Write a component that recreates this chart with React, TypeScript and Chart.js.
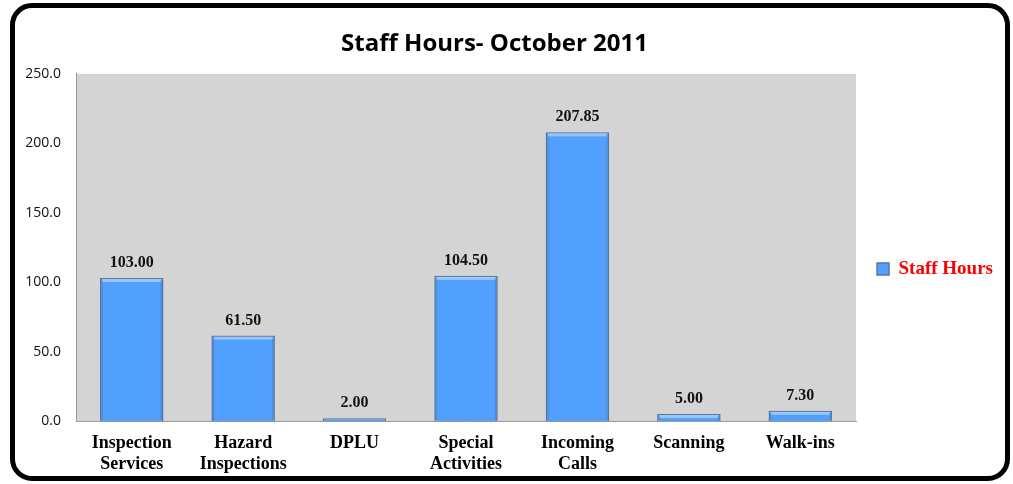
import { useEffect, useRef } from "react";
import { Chart, registerables } from "chart.js";

Chart.register(...registerables);

const titleText = "Staff Hours- October 2011";
const seriesName = "Staff Hours";
const categories: string[][] = [
  ["Inspection", "Services"],
  ["Hazard", "Inspections"],
  ["DPLU"],
  ["Special", "Activities"],
  ["Incoming", "Calls"],
  ["Scanning"],
  ["Walk-ins"],
];
const staffHours: number[] = [103.0, 61.5, 2.0, 104.5, 207.85, 5.0, 7.3];
const yMin = 0;
const yMax = 250;
const yStep = 50;

// canvas is shifted left so the title can be centred as in the original
const CANVAS_SHIFT = 14;
const CANVAS_W = 1013 + CANVAS_SHIFT;
const CANVAS_H = 484;
const PAD_L = 0;
const PAD_R = 10;
const PAD_T = 8;
const PAD_B = 4;

const plotBg = {
  id: "plotBg",
  beforeDraw(chart: any) {
    const { ctx, chartArea } = chart;
    ctx.save();
    ctx.fillStyle = "#d4d4d4";
    ctx.fillRect(chartArea.left, chartArea.top, chartArea.right - chartArea.left, chartArea.bottom - chartArea.top);
    ctx.restore();
  },
};

const valueLabels = {
  id: "valueLabels",
  afterDatasetsDraw(chart: any) {
    const { ctx } = chart;
    const meta = chart.getDatasetMeta(0);
    const data = chart.data.datasets[0].data as number[];
    ctx.save();
    // bevel highlight on bars
    meta.data.forEach((bar: any) => {
      const left = bar.x - bar.width / 2;
      const h = bar.base - bar.y;
      if (h > 6) {
        ctx.fillStyle = "rgba(200,230,255,0.55)";
        ctx.fillRect(left + 2, bar.y + 1, bar.width - 4, 3);
        ctx.fillStyle = "rgba(40,90,160,0.25)";
        ctx.fillRect(left + 1, bar.y + 2, 2, h - 3);
        ctx.fillRect(left + bar.width - 3, bar.y + 2, 2, h - 3);
      }
    });
    ctx.font = "bold 16px 'Liberation Serif', serif";
    ctx.fillStyle = "#111";
    ctx.textAlign = "center";
    ctx.textBaseline = "alphabetic";
    meta.data.forEach((bar: any, i: number) => {
      ctx.fillText(data[i].toFixed(2), bar.x, bar.y - 11);
    });
    ctx.restore();
  },
};

export default function App() {
  const ref = useRef<HTMLCanvasElement | null>(null);
  useEffect(() => {
    if (!ref.current) return;
    const chart = new Chart(ref.current, {
      type: "bar",
      data: {
        labels: categories,
        datasets: [
          {
            label: seriesName,
            data: staffHours,
            backgroundColor: "#52a0fd",
            borderColor: "#58779c",
            borderWidth: 1.5,
            barPercentage: 0.57,
            categoryPercentage: 1,
          },
        ],
      },
      options: {
        animation: false,
        responsive: false,
        maintainAspectRatio: false,
        devicePixelRatio: 1,
        layout: { padding: { left: PAD_L, right: PAD_R, top: PAD_T, bottom: PAD_B } },
        plugins: {
          title: {
            display: true,
            text: titleText,
            color: "#000",
            font: { family: "'Open Sans', sans-serif", size: 24, weight: "bold", lineHeight: 1.2 },
            padding: { top: 22, bottom: 15 },
          },
          legend: {
            display: true,
            position: "right",
            align: "center",
            fullSize: false,
            title: { display: true, text: "", font: { size: 13, lineHeight: 1 }, padding: { top: 30, bottom: 0 } },
            labels: {
              boxWidth: 12,
              boxHeight: 12,
              padding: 21,
              color: "#ff0000",
              font: { family: "'Liberation Serif', serif", size: 19, weight: "bold" },
            },
          },
          tooltip: { enabled: false },
        },
        scales: {
          x: {
            grid: { display: false, drawTicks: false },
            border: { display: true, color: "#9a9a9a", width: 1 },
            ticks: {
              color: "#000",
              padding: 12,
              maxRotation: 0,
              autoSkip: false,
              font: { family: "'Liberation Serif', serif", size: 18, weight: "bold", lineHeight: 1.15 },
            },
            afterFit: (s: any) => {
              s.height = CANVAS_H - 421 - PAD_B;
            },
          },
          y: {
            min: yMin,
            max: yMax,
            grid: { display: false, drawTicks: false },
            border: { display: true, color: "#9a9a9a", width: 1 },
            ticks: {
              stepSize: yStep,
              color: "#111",
              padding: 15,
              font: { family: "'Open Sans', sans-serif", size: 14 },
              callback: (v: any) => Number(v).toFixed(1),
            },
            afterFit: (s: any) => {
              s.width = 76 + CANVAS_SHIFT - PAD_L;
            },
          },
        },
      },
      plugins: [plotBg, valueLabels],
    });
    return () => chart.destroy();
  }, []);

  return (
    <div style={{ position: "fixed", left: 0, top: 0, width: 1013, height: 484, background: "#fff", overflow: "hidden" }}>
      <canvas
        ref={ref}
        width={CANVAS_W}
        height={CANVAS_H}
        style={{ position: "absolute", left: -CANVAS_SHIFT, top: 0, width: CANVAS_W, height: CANVAS_H }}
      />
      <div
        style={{
          position: "absolute",
          left: 10,
          top: 3,
          width: 1000,
          height: 478,
          boxSizing: "border-box",
          border: "5px solid #000",
          borderRadius: 22,
          pointerEvents: "none",
        }}
      />
    </div>
  );
}
